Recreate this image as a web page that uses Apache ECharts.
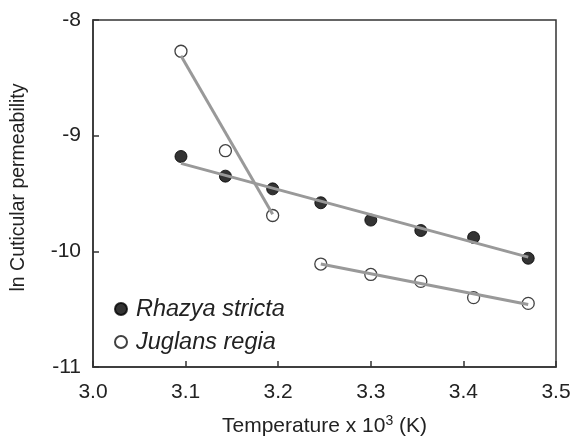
<!DOCTYPE html>
<html>
<head>
<meta charset="utf-8">
<script src="https://cdn.jsdelivr.net/npm/echarts@6/dist/echarts.min.js"></script>
<style>html,body{margin:0;padding:0;background:#fff;}#c{width:573px;height:437px;}</style>
</head>
<body>
<div id="c"></div>
<script>
var xTicks = [3.0, 3.1, 3.2, 3.3, 3.4, 3.5];
var yTicks = [-11, -10, -9, -8];
var rhazyaX = [3.095, 3.143, 3.194, 3.246, 3.300, 3.354, 3.411, 3.470];
var rhazyaY = [-9.18, -9.35, -9.46, -9.58, -9.73, -9.82, -9.88, -10.06];
var juglansX = [3.095, 3.143, 3.194, 3.246, 3.300, 3.354, 3.411, 3.470];
var juglansY = [-8.27, -9.13, -9.69, -10.11, -10.20, -10.26, -10.40, -10.45];
var rhazyaFitX = [3.095, 3.470];
var rhazyaFitY = [-9.24, -10.05];
var juglansFit1X = [3.095, 3.194];
var juglansFit1Y = [-8.31, -9.68];
var juglansFit2X = [3.246, 3.470];
var juglansFit2Y = [-10.11, -10.46];

function pairs(xs, ys){ return xs.map(function(x,i){ return [x, ys[i]]; }); }

var font = 'Liberation Sans, Arial, sans-serif';
var chart = echarts.init(document.getElementById('c'), null, {renderer:'canvas'});
var lineStyle = {color:'#999999', width:3};
chart.setOption({
  animation:false,
  backgroundColor:'#fff',
  grid:{left:93, top:20, right:17, bottom:70, containLabel:false, outerBoundsMode:'none',
        show:true, borderColor:'#333', borderWidth:1.5, backgroundColor:'transparent'},
  legend:{
    left:109, top:292, orient:'vertical', itemGap:9, itemWidth:12, itemHeight:12,
    data:[{name:'Rhazya stricta', icon:'circle'},{name:'Juglans regia', icon:'circle'}],
    textStyle:{fontFamily:font, fontSize:23.5, fontStyle:'italic', color:'#222', lineHeight:24, padding:[0,0,0,4]}
  },
  xAxis:{
    type:'value', min:3.0, max:3.5, interval:0.1,
    name:'Temperature x 10{sup|3} (K)', nameLocation:'middle', nameGap:47,
    nameTextStyle:{fontFamily:font, fontSize:21, color:'#222', rich:{sup:{fontFamily:font, fontSize:14, color:'#222', verticalAlign:'bottom', padding:[0,0,10,0]}}},
    axisLine:{lineStyle:{color:'#333', width:1.5}},
    axisTick:{inside:true, length:6, lineStyle:{color:'#333', width:1.5}},
    axisLabel:{fontFamily:font, fontSize:21, color:'#222', margin:15, formatter:function(v){return v.toFixed(1);}},
    splitLine:{show:false}
  },
  yAxis:{
    type:'value', min:-11, max:-8, interval:1,
    name:'ln Cuticular permeability', nameLocation:'middle', nameGap:64,
    nameTextStyle:{fontFamily:font, fontSize:19.5, color:'#222', padding:[0,0,0,12]},
    axisLine:{lineStyle:{color:'#333', width:1.5}},
    axisTick:{inside:true, length:6, lineStyle:{color:'#333', width:1.5}},
    axisLabel:{fontFamily:font, fontSize:21, color:'#222', margin:12},
    splitLine:{show:false}
  },
  series:[
    {name:'Rhazya stricta', type:'scatter', data:pairs(rhazyaX, rhazyaY), symbol:'circle', symbolSize:12,
     itemStyle:{color:'#000', borderColor:'#000', borderWidth:1}, z:2},
    {name:'Juglans regia', type:'scatter', data:pairs(juglansX, juglansY), symbol:'circle', symbolSize:12,
     itemStyle:{color:'#fff', borderColor:'#111', borderWidth:1.3}, z:2},
    {name:'fitR', type:'line', data:pairs(rhazyaFitX, rhazyaFitY), showSymbol:false, symbol:'none', lineStyle:lineStyle, z:3},
    {name:'fitJ1', type:'line', data:pairs(juglansFit1X, juglansFit1Y), showSymbol:false, symbol:'none', lineStyle:lineStyle, z:3},
    {name:'fitJ2', type:'line', data:pairs(juglansFit2X, juglansFit2Y), showSymbol:false, symbol:'none', lineStyle:lineStyle, z:3}
  ]
});
</script>
</body>
</html>
